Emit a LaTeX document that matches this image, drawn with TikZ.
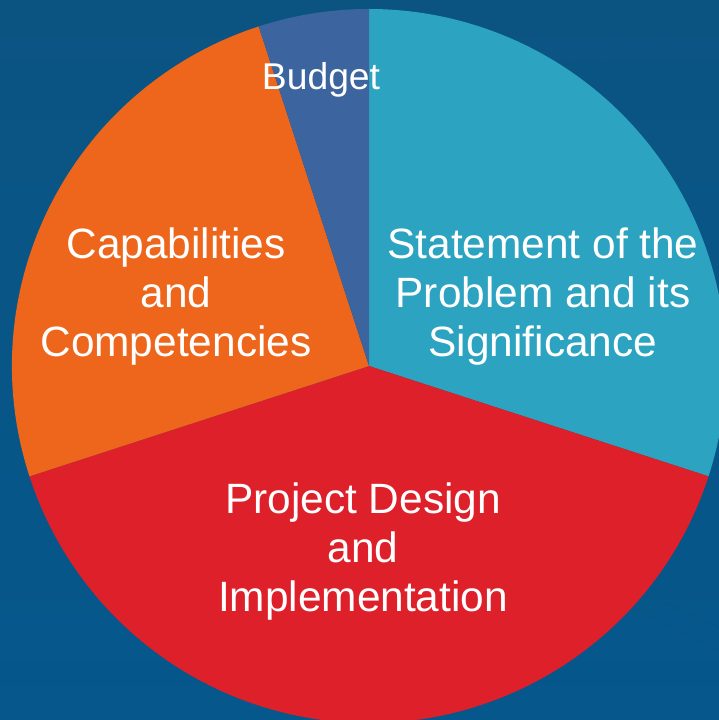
\documentclass[tikz,border=0pt]{standalone}
\usepackage{fontspec}
\setmainfont{Liberation Sans}
\definecolor{bgtop}{HTML}{0B5482}
\definecolor{bgmid}{HTML}{0C5C8F}
\definecolor{bgbottom}{HTML}{05578C}
\definecolor{bgmark}{HTML}{0B5483}
\definecolor{teal}{HTML}{2CA3C0}
\definecolor{piered}{HTML}{DD2029}
\definecolor{pieorange}{HTML}{ED661B}
\definecolor{pieblue}{HTML}{3C649E}
\tikzset{
  label big/.style={text=white,align=center,font=\fontsize{42.4}{49}\selectfont,inner sep=0pt},
  label small/.style={text=white,align=center,font=\fontsize{37.3}{44}\selectfont,inner sep=0pt},
  mark line/.style={draw=bgmark,line width=1.2pt},
}
\begin{document}
\begin{tikzpicture}[x=1pt,y=1pt]
\useasboundingbox (0,0) rectangle (719,720);
\clip (0,0) rectangle (719,720);
\shade[top color=bgtop,middle color=bgmid,bottom color=bgbottom] (0,0) rectangle (719,720);
% faint watermark lines
\coordinate (seal) at (740,445);
\draw[mark line] (seal) ++(95:270) arc (95:150:270);
\draw[mark line] (seal) ++(95:252) arc (95:150:252);
\draw[mark line] (633,113) -- (719,70);
\draw[mark line] (650,125) -- (719,92);
\coordinate (c) at (369,354);
\fill[teal] (c) -- ++(90:357) arc (90:-18:357) -- cycle;
\fill[piered] (c) -- ++(-18:357) arc (-18:-162:357) -- cycle;
\fill[pieorange] (c) -- ++(198:357) arc (198:108:357) -- cycle;
\fill[pieblue] (c) -- ++(108:357) arc (108:90:357) -- cycle;
\node[label big] (statement) at (543,423.5) {Statement of the\\Problem and its\\Significance};
\node[label big] (capabilities) at (176,423.5) {Capabilities\\and\\Competencies};
\node[label big] (project) at (363,168.5) {Project Design\\and\\Implementation};
\node[label small] (budget) at (321,640) {Budget};
\end{tikzpicture}
\end{document}
